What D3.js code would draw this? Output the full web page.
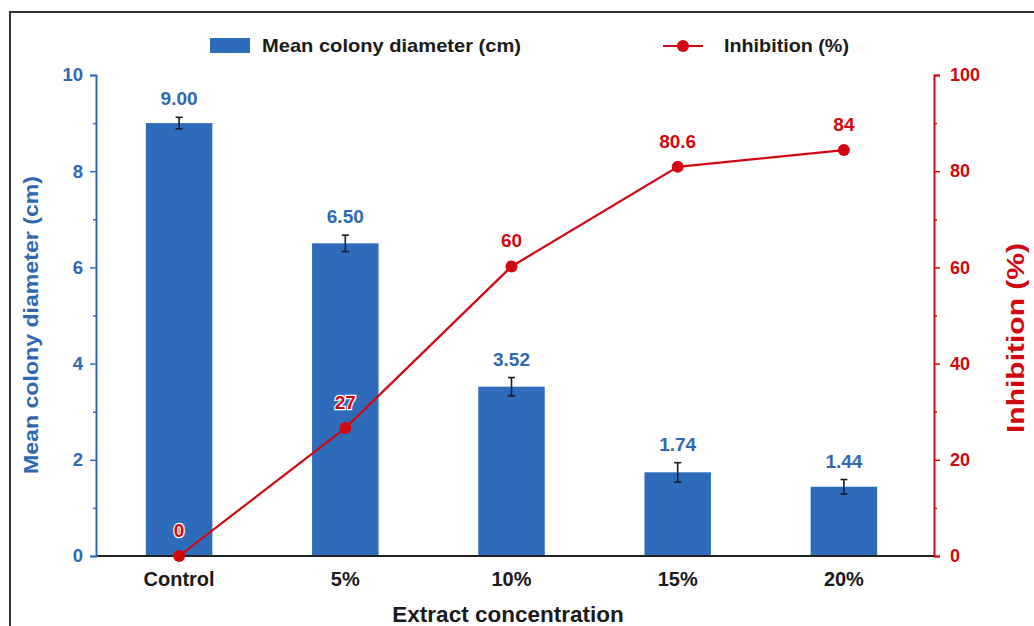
<!DOCTYPE html>
<html><head><meta charset="utf-8">
<script src="https://cdn.jsdelivr.net/npm/d3@7"></script>
<style>body{margin:0;background:#fff}svg{display:block}</style>
</head><body>
<script>
const categories = ["Control","5%","10%","15%","20%"];
const diameter = [9.00, 6.50, 3.52, 1.74, 1.44];
const diameterErr = [0.12, 0.17, 0.19, 0.20, 0.15];
const diameterLabels = ["9.00","6.50","3.52","1.74","1.44"];
const inhibition = [0, 26.6, 60.2, 80.9, 84.4];
const inhibitionLabels = ["0","27","60","80.6","84"];
const leftTicks = [0,2,4,6,8,10];
const rightTicks = [0,20,40,60,80,100];

const W=1034,H=626;
const BLUE="#2f6bbb", BLUE_T="#2e67b2", RED="#d2070f";
const svg=d3.select("body").append("svg").attr("width",W).attr("height",H);
const FONT="'Liberation Sans', Arial, sans-serif";
const NARROW="'Liberation Sans Narrow','Arial Narrow','Liberation Sans',sans-serif";

// frame
svg.append("rect").attr("x",10).attr("y",12).attr("width",1040).attr("height",640)
  .attr("fill","none").attr("stroke","#333").attr("stroke-width",2);

const x=d3.scaleBand().domain(categories).range([96,927]).paddingInner(0.6).paddingOuter(0.3);
const yL=d3.scaleLinear().domain([0,10]).range([556,75]);
const yR=d3.scaleLinear().domain([0,100]).range([556,75]);

// bars
svg.append("g").selectAll("rect").data(categories).join("rect")
  .attr("x",d=>x(d)).attr("width",x.bandwidth())
  .attr("y",(d,i)=>yL(diameter[i])).attr("height",(d,i)=>yL(0)-yL(diameter[i]))
  .attr("fill",BLUE);

// error bars
const eg=svg.append("g").attr("stroke","#1a1a2a").attr("stroke-width",1.6);
categories.forEach((c,i)=>{
  const cx=x(c)+x.bandwidth()/2, t=yL(diameter[i]+diameterErr[i]), b=yL(diameter[i]-diameterErr[i]);
  eg.append("line").attr("x1",cx).attr("x2",cx).attr("y1",t).attr("y2",b);
  eg.append("line").attr("x1",cx-3.5).attr("x2",cx+3.5).attr("y1",t).attr("y2",t);
  eg.append("line").attr("x1",cx-3.5).attr("x2",cx+3.5).attr("y1",b).attr("y2",b);
});

// bar labels
svg.append("g").selectAll("text").data(categories).join("text")
  .attr("x",d=>x(d)+x.bandwidth()/2)
  .attr("y",(d,i)=>yL(diameter[i]+diameterErr[i])-12)
  .attr("text-anchor","middle").attr("font-family",FONT).attr("font-weight","bold")
  .attr("font-size",19).attr("fill",BLUE_T).text((d,i)=>diameterLabels[i]);

// x axis line
svg.append("line").attr("x1",96).attr("x2",934).attr("y1",yL(0)).attr("y2",yL(0))
  .attr("stroke","#222").attr("stroke-width",2);

// left axis
const la=svg.append("g").attr("transform","translate(96,0)")
  .call(d3.axisLeft(yL).tickValues(leftTicks).tickSize(6).tickPadding(7).tickFormat(d3.format("d")));
la.select(".domain").attr("stroke",BLUE).attr("stroke-width",2);
la.selectAll(".tick line").attr("stroke",BLUE).attr("stroke-width",1.5);
la.selectAll("text").attr("fill",BLUE_T).attr("font-family",FONT).attr("font-weight","bold").attr("font-size",18.5);
svg.append("g").attr("transform","translate(96,0)")
  .call(d3.axisLeft(yL).tickValues([1,3,5,7,9]).tickSize(3).tickFormat(""))
  .call(g=>{g.select(".domain").remove();g.selectAll("line").attr("stroke",BLUE).attr("stroke-width",1.5);});

// right axis
const ra=svg.append("g").attr("transform","translate(934,0)")
  .call(d3.axisRight(yR).tickValues(rightTicks).tickSize(6).tickPadding(10).tickFormat(d3.format("d")));
ra.select(".domain").attr("stroke",RED).attr("stroke-width",2);
ra.selectAll(".tick line").attr("stroke",RED).attr("stroke-width",1.5);
ra.selectAll("text").attr("fill",RED).attr("font-family",FONT).attr("font-weight","bold").attr("font-size",18);
svg.append("g").attr("transform","translate(934,0)")
  .call(d3.axisRight(yR).tickValues([10,30,50,70,90]).tickSize(3).tickFormat(""))
  .call(g=>{g.select(".domain").remove();g.selectAll("line").attr("stroke",RED).attr("stroke-width",1.5);});

// x labels
svg.append("g").selectAll("text").data(categories).join("text")
  .attr("x",d=>x(d)+x.bandwidth()/2).attr("y",586).attr("text-anchor","middle")
  .attr("font-family",NARROW).attr("font-weight","bold").attr("font-size",20).attr("fill","#1a1a1a")
  .text(d=>d);

// axis titles
svg.append("text").attr("x",508).attr("y",622).attr("text-anchor","middle")
  .attr("font-family",NARROW).attr("font-weight","bold").attr("font-size",22.5).attr("fill","#1a1a1a")
  .text("Extract concentration");
svg.append("text").attr("transform","translate(38,325) rotate(-90)").attr("text-anchor","middle")
  .attr("font-family",FONT).attr("font-weight","bold").attr("font-size",21).attr("fill",BLUE_T)
  .attr("textLength",298).attr("lengthAdjust","spacingAndGlyphs")
  .text("Mean colony diameter (cm)");
svg.append("text").attr("transform","translate(1024,338) rotate(-90)").attr("text-anchor","middle")
  .attr("font-family",FONT).attr("font-weight","bold").attr("font-size",23).attr("fill",RED)
  .attr("textLength",190).attr("lengthAdjust","spacingAndGlyphs")
  .text("Inhibition (%)");

// line
const pts=categories.map((c,i)=>[x(c)+x.bandwidth()/2, yR(inhibition[i])]);
svg.append("path").attr("d",d3.line()(pts)).attr("fill","none").attr("stroke",RED).attr("stroke-width",2.2);
svg.append("g").selectAll("circle").data(pts).join("circle")
  .attr("cx",d=>d[0]).attr("cy",d=>d[1]).attr("r",6).attr("fill",RED);
svg.append("g").selectAll("text").data(pts).join("text")
  .attr("x",d=>d[0]).attr("y",d=>d[1]-19).attr("text-anchor","middle")
  .attr("font-family",FONT).attr("font-weight","bold").attr("font-size",19).attr("fill",RED)
  .attr("stroke","#fff").attr("stroke-width",2.5).attr("paint-order","stroke")
  .text((d,i)=>inhibitionLabels[i]);

// legend
svg.append("rect").attr("x",210).attr("y",38).attr("width",40).attr("height",15).attr("fill",BLUE);
svg.append("text").attr("x",262).attr("y",52).attr("font-family",NARROW).attr("font-weight","bold")
  .attr("font-size",19).attr("fill","#1a1a1a").attr("textLength",259).attr("lengthAdjust","spacingAndGlyphs")
  .text("Mean colony diameter (cm)");
svg.append("line").attr("x1",663).attr("x2",703).attr("y1",46).attr("y2",46).attr("stroke",RED).attr("stroke-width",2.2);
svg.append("circle").attr("cx",683).attr("cy",46).attr("r",6).attr("fill",RED);
svg.append("text").attr("x",724).attr("y",52).attr("font-family",NARROW).attr("font-weight","bold")
  .attr("font-size",19).attr("fill","#1a1a1a").attr("textLength",125).attr("lengthAdjust","spacingAndGlyphs")
  .text("Inhibition (%)");
</script>
</body></html>
